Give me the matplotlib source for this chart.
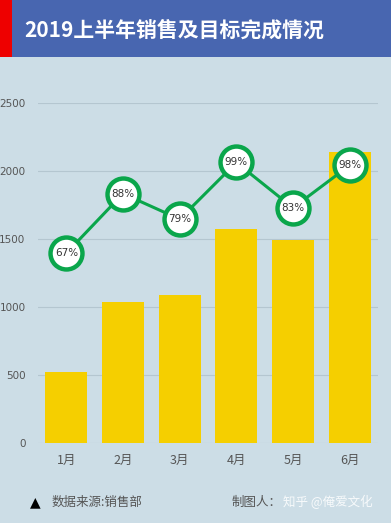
import matplotlib
matplotlib.use("Agg")
import matplotlib.pyplot as plt
from matplotlib.patches import Rectangle

plt.rcParams["font.family"] = ["Noto Sans CJK SC", "DejaVu Sans"]

# data
months = ["1月", "2月", "3月", "4月", "5月", "6月"]
sales = [520, 1040, 1090, 1570, 1490, 2140]
rates = [0.67, 0.88, 0.79, 0.99, 0.83, 0.98]
yticks = [0, 500, 1000, 1500, 2000, 2500]

bg = "#ccdde6"
bar_color = "#f5cf00"
green = "#0aa64b"
tick_gray = "#555555"

W, H = 391, 523
fig = plt.figure(figsize=(W / 100, H / 100), dpi=100, facecolor=bg)

# title bar
fig.patches.append(Rectangle((0, 1 - 57 / H), 1, 57 / H, transform=fig.transFigure,
                             facecolor="#4866b0", edgecolor="none", zorder=0))
fig.patches.append(Rectangle((0, 1 - 57 / H), 12 / W, 57 / H, transform=fig.transFigure,
                             facecolor="#ee0000", edgecolor="none", zorder=1))
fig.text(24 / W, 1 - 30 / H, "2019上半年销售及目标完成情况", color="white",
         fontsize=15, fontweight="bold", va="center", ha="left")

ax = fig.add_axes([38 / W, 1 - 443 / H, 340 / W, 340 / H])
ax.set_facecolor(bg)
x = range(len(months))
ax.bar(x, sales, width=0.74, color=bar_color, zorder=2)
ax.set_xlim(-0.5, 5.5)
ax.set_ylim(0, 2500)
ax.set_yticks(yticks)
ax.set_yticklabels([str(v) for v in yticks], family=["DejaVu Sans"], fontsize=7.5)
ax.grid(axis="y", color="#b4c6d0", linewidth=0.8, zorder=0)
ax.set_xticks(list(x))
ax.set_xticklabels(months, fontsize=9)
for s in ax.spines.values():
    s.set_visible(False)
ax.tick_params(axis="both", length=0, colors=tick_gray)
ax.tick_params(axis="y", pad=9)
ax.tick_params(axis="x", pad=8)

ax2 = ax.twinx()
ax2.set_ylim(0, 1.2)
ax2.axis("off")
ax2.plot(x, rates, color=green, linewidth=2.2, zorder=3)
ax2.plot(x, rates, "o", markersize=23, markerfacecolor="white",
         markeredgecolor=green, markeredgewidth=3.2, zorder=4)
for xi, r in zip(x, rates):
    ax2.text(xi, r, f"{round(r * 100)}%", ha="center", va="center",
             fontsize=7.5, color="#333333", family=["DejaVu Sans"], zorder=5)

# footer
fig.text(35 / W, 1 - 502 / H, "▲", fontsize=10, color="black", ha="center",
         va="center", family=["DejaVu Sans"])
fig.text(52 / W, 1 - 502 / H, "数据来源:销售部", fontsize=9, color="#555555",
         va="center", ha="left")
fig.text(232 / W, 1 - 502 / H, "制图人：", fontsize=9, color="#555555",
         va="center", ha="left")
fig.text(283 / W, 1 - 502 / H, "知乎 @俺爱文化", fontsize=9, color="white",
         alpha=0.85, va="center", ha="left")

fig.savefig("out.png", dpi=100, facecolor=bg)
